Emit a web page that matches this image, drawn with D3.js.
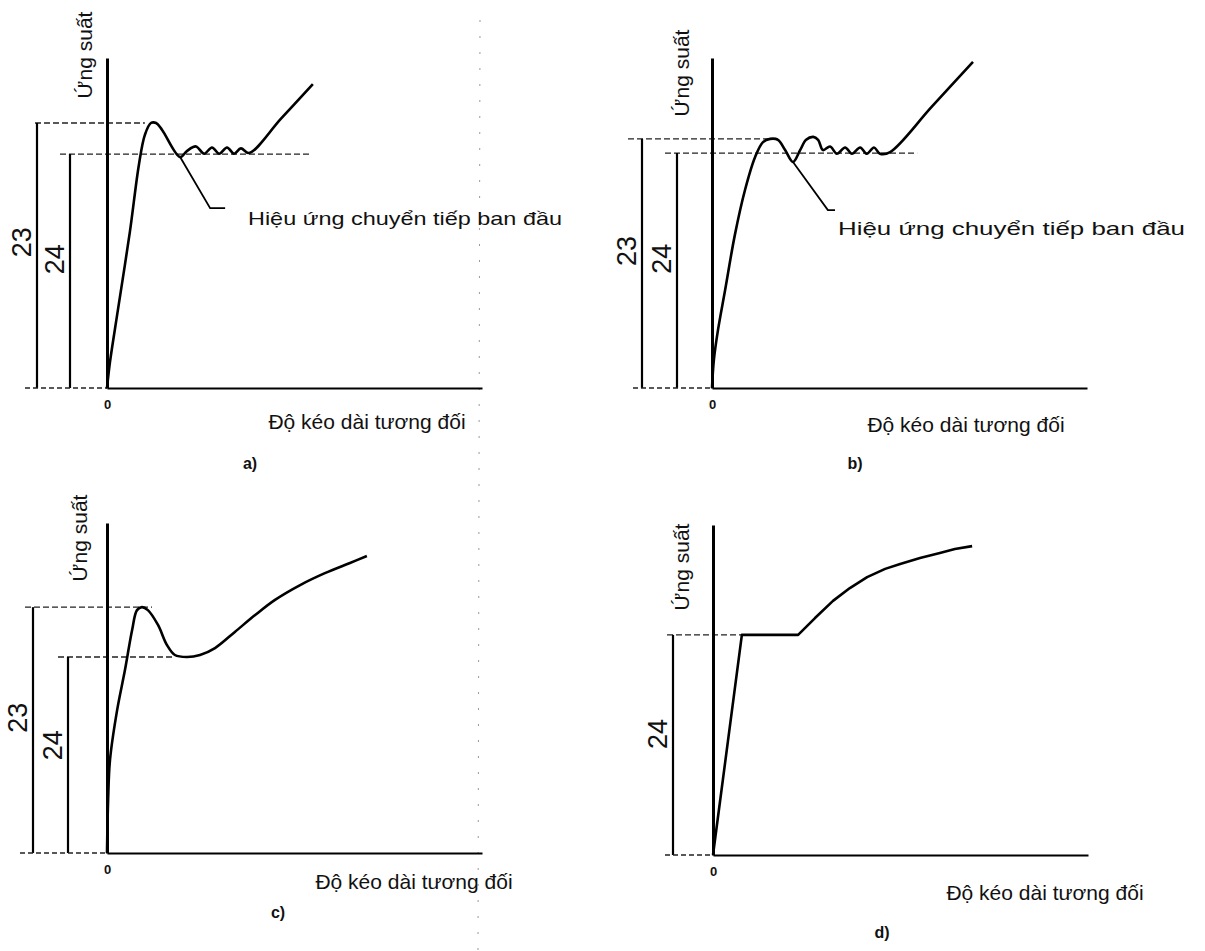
<!DOCTYPE html>
<html>
<head>
<meta charset="utf-8">
<script src="https://cdn.jsdelivr.net/npm/d3@7"></script>
<style>
  body { margin: 0; background: #fff; }
  text { font-family: "Liberation Sans", Arial, sans-serif; fill: #111; }
</style>
</head>
<body>
<svg id="chart" width="1205" height="951"></svg>
<script>
    // curves: [strain, stress] in % of the axis length
    var curveA = [[0,0],[0.8,7.9],[2.9,23.6],[6.1,47.3],[8.5,67.6],[10.1,76.7],[11.7,80.3],[13.1,80.3],[14.7,78.2],
        [19.5,70.0],[21.3,71.8],[23.7,73.2],[25.9,71.0],[28.0,72.9],[29.9,71.0],[32.0,72.9],[33.9,71.0],[35.7,72.6],
        [37.9,71.2],[46.4,81.6],[54.9,92.1]];
    var curveB = [[0,0],[0.5,8.5],[1.6,17.6],[3.5,29.7],[6.1,46.4],[8.8,60.0],[11.5,70.0],[13.6,74.5],[15.5,75.5],
        [17.6,75.2],[19.5,72.1],[21.6,68.5],[23.5,72.1],[25.1,75.2],[27.0,76.1],[28.3,75.2],[29.6,72.1],[31.5,73.2],
        [33.3,71.0],[35.5,72.9],[37.3,71.0],[39.5,72.9],[41.3,71.0],[43.2,72.9],[44.8,71.0],[47.5,71.5],[58.5,85.1],
        [69.6,98.8]];
    var curveC = [[0,0],[0.3,16.1],[0.8,28.2],[2.7,43.3],[4.8,55.5],[6.7,67.6],[8.0,73.6],[9.3,74.5],[10.9,73.6],
        [13.6,69.1],[16.0,63.0],[18.1,60.0],[21.3,59.4],[24.8,60.0],[28.8,62.1],[34.1,67.0],[39.5,72.1],[44.8,76.7],
        [51.5,81.2],[58.1,84.8],[64.8,87.9],[69.3,90.0]];
    var curveD = [[0,0],[7.7,66.7],[22.7,66.7],[27.2,71.8],[32.0,77.0],[36.5,80.9],[41.1,84.2],[45.9,86.7],
        [49.9,88.2],[55.2,90.0],[60.5,91.5],[64.5,92.7],[69.1,93.6]];

    // yield levels (23 = upper, 24 = lower) and how far their dashed lines run
    var levelNames = ["23", "24"];
    var levelsA = [80.3, 70.9], levelEndsA = [10.1, 54];
    var levelsB = [75.5, 71.2], levelEndsB = [18.1, 54.7];
    var levelsC = [74.5, 59.4], levelEndsC = [12, 18.1];
    var levelsD = [null, 66.7], levelEndsD = [null, 7.7];

    // leader line of the note
    var leaderA = [[19.5,70.0],[27.5,54.5],[31.5,54.5]];
    var leaderB = [[21.6,68.5],[30.9,53.9],[32.8,53.9]];

    var yLabel = "Ứng suất";
    var xLabel = "Độ kéo dài tương đối";
    var noteText = "Hiệu ứng chuyển tiếp ban đầu";
    var panelNames = ["a)", "b)", "c)", "d)"];

    // layout (pixels)
    var W = 375, H = 330;
    var layout = [
        { ox: 107, oy: 388, curve: curveA, smooth: true, levels: levelsA, ends: levelEndsA, leader: leaderA,
          dimX: [-70, -37], dashL: [-72, -47], baseL: -82, yLab: [-22, 55], xLab: [367, 422], pLab: [250, 463], note: [248, 218, 314] },
        { ox: 712, oy: 388, curve: curveB, smooth: true, levels: levelsB, ends: levelEndsB, leader: leaderB,
          dimX: [-70, -35], dashL: [-84, -47], baseL: -79, yLab: [-30, 73], xLab: [966, 425], pLab: [855, 463], note: [838, 228, 347] },
        { ox: 107, oy: 853, curve: curveC, smooth: true, levels: levelsC, ends: levelEndsC, leader: null,
          dimX: [-74, -39], dashL: [-82, -49], baseL: -87, yLab: [-27, 538], xLab: [414, 882], pLab: [278, 912] },
        { ox: 713, oy: 855, curve: curveD, smooth: false, levels: levelsD, ends: levelEndsD, leader: null,
          dimX: [null, -40], dashL: [null, -46], baseL: -48, yLab: [-31, 567], xLab: [1045, 893], pLab: [882, 932] }
    ];

    var svg = d3.select("#chart");

    // faint scan crease down the middle
    svg.append("line")
        .attr("x1", 480).attr("y1", 20).attr("x2", 478).attr("y2", 951)
        .attr("stroke", "#999").attr("stroke-width", 1)
        .attr("stroke-dasharray", "2,14");

    layout.forEach(function (p, i) {
        var x = d3.scaleLinear().domain([0, 100]).range([p.ox, p.ox + W]);
        var y = d3.scaleLinear().domain([0, 100]).range([p.oy, p.oy - H]);
        var g = svg.append("g");

        // reference levels, dimension lines and their labels
        p.levels.forEach(function (lv, k) {
            if (lv == null) return;
            g.append("line")
                .attr("x1", p.ox + p.dashL[k]).attr("x2", x(p.ends[k]))
                .attr("y1", y(lv)).attr("y2", y(lv))
                .attr("stroke", "#222").attr("stroke-width", 1.3)
                .attr("stroke-dasharray", "6,3");
            g.append("line")
                .attr("x1", p.ox + p.dimX[k]).attr("x2", p.ox + p.dimX[k])
                .attr("y1", y(lv)).attr("y2", y(0))
                .attr("stroke", "#000").attr("stroke-width", 2.2);
            var lx = p.ox + p.dimX[k] - 15, ly = y(lv * 0.55);
            g.append("text")
                .attr("transform", "translate(" + lx + "," + ly + ") rotate(-90)")
                .attr("text-anchor", "middle").attr("dy", "0.35em")
                .style("font-size", "27px")
                .text(levelNames[k]);
        });

        // baseline to the left of the origin
        g.append("line")
            .attr("x1", p.ox + p.baseL).attr("x2", p.ox)
            .attr("y1", y(0)).attr("y2", y(0))
            .attr("stroke", "#222").attr("stroke-width", 1.3)
            .attr("stroke-dasharray", "5,3");

        // axes
        var xAxis = g.append("g")
            .attr("transform", "translate(0," + p.oy + ")")
            .call(d3.axisBottom(x).tickValues([0]).tickSize(0).tickSizeOuter(0).tickPadding(12));
        xAxis.select(".domain").attr("stroke", "#000").attr("stroke-width", 2.2);
        xAxis.selectAll(".tick text")
            .style("font-family", "'Liberation Sans', Arial, sans-serif")
            .style("font-size", "13px").style("font-weight", "bold").attr("fill", "#111");

        var yAxis = g.append("g")
            .attr("transform", "translate(" + p.ox + ",0)")
            .call(d3.axisLeft(y).tickValues([]).tickSizeOuter(0));
        yAxis.select(".domain").attr("stroke", "#000").attr("stroke-width", 3);

        // stress-strain curve
        var line = d3.line()
            .x(function (d) { return x(d[0]); })
            .y(function (d) { return y(d[1]); })
            .curve(p.smooth ? d3.curveCatmullRom.alpha(0.5) : d3.curveLinear);
        g.append("path")
            .datum(p.curve)
            .attr("d", line)
            .attr("fill", "none").attr("stroke", "#000")
            .attr("stroke-width", 2.6).attr("stroke-linejoin", "round");

        // note with leader
        if (p.leader) {
            g.append("path")
                .datum(p.leader)
                .attr("d", d3.line().x(function (d) { return x(d[0]); }).y(function (d) { return y(d[1]); }))
                .attr("fill", "none").attr("stroke", "#000").attr("stroke-width", 1.8);
            g.append("text")
                .attr("x", p.note[0]).attr("y", p.note[1]).attr("dy", "0.35em")
                .attr("textLength", p.note[2]).attr("lengthAdjust", "spacingAndGlyphs")
                .style("font-size", "19px")
                .text(noteText);
        }

        // axis titles
        g.append("text")
            .attr("transform", "translate(" + (p.ox + p.yLab[0]) + "," + p.yLab[1] + ") rotate(-90)")
            .attr("text-anchor", "middle").attr("dy", "0.35em")
            .style("font-size", "21px")
            .text(yLabel);
        g.append("text")
            .attr("x", p.xLab[0]).attr("y", p.xLab[1]).attr("dy", "0.35em")
            .attr("text-anchor", "middle")
            .style("font-size", "21px")
            .text(xLabel);
        g.append("text")
            .attr("x", p.pLab[0]).attr("y", p.pLab[1]).attr("dy", "0.35em")
            .attr("text-anchor", "middle")
            .style("font-size", "16px").style("font-weight", "bold")
            .text(panelNames[i]);
    });
</script>
</body>
</html>
